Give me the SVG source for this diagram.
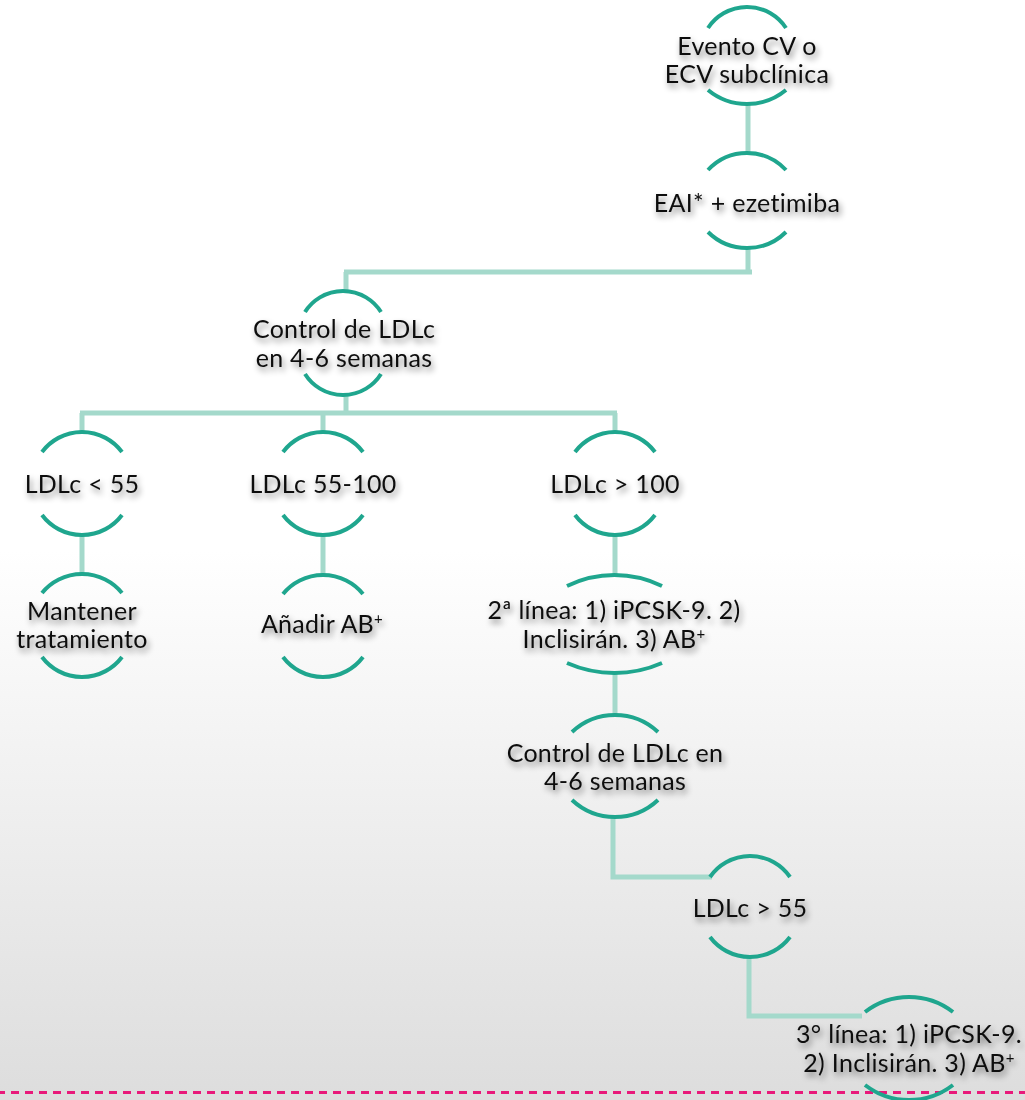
<svg xmlns="http://www.w3.org/2000/svg" width="1025" height="1100" viewBox="0 0 1025 1100">
<defs>
<linearGradient id="bg" x1="0" y1="0" x2="0" y2="1100" gradientUnits="userSpaceOnUse">
<stop offset="0" stop-color="#ffffff"/>
<stop offset="0.5" stop-color="#ffffff"/>
<stop offset="1" stop-color="#dddddd"/>
</linearGradient>
<filter id="sh" x="-20%" y="-40%" width="140%" height="200%">
<feGaussianBlur in="SourceAlpha" stdDeviation="3"/>
<feOffset dx="2" dy="4" result="b"/>
<feComponentTransfer><feFuncA type="linear" slope="0.5"/></feComponentTransfer>
<feMerge><feMergeNode/><feMergeNode in="SourceGraphic"/></feMerge>
</filter>
</defs>
<style>
.arc{fill:none;stroke:#1fa68e;stroke-width:4}
.con{fill:none;stroke:#a4d9cb;stroke-width:5}
.t{font-family:"Lato","Open Sans","Liberation Sans",sans-serif;font-size:25px;letter-spacing:0.3px;font-variant-ligatures:none;fill:#111;text-anchor:middle;filter:url(#sh)}
.sup{font-size:15px}
</style>
<rect x="0" y="0" width="1025" height="1100" fill="url(#bg)"/>
<line x1="0" y1="1092.5" x2="1025" y2="1092.5" stroke="#e8197a" stroke-width="3" stroke-dasharray="8 6" stroke-dashoffset="3"/>
<g id="connectors">
<path class="con" d="M748,103 V153"/>
<path class="con" d="M748,248 V272 M752,272 H344 M346,272 V291"/>
<path class="con" d="M346,395 V413 M80,413 H617 M82,413 V432 M323,413 V432 M615,413 V432"/>
<path class="con" d="M82,535 V573 M323,535 V575 M615,535 V575"/>
<path class="con" d="M615,672 V715"/>
<path class="con" d="M613,817 V877 H712"/>
<path class="con" d="M749,957 V1016 H862"/>
</g>
<g id="n1">
<path class="arc" d="M708,28 A46.7,46.7 0 0 1 786,28"/>
<path class="arc" d="M708,90 A61.3,61.3 0 0 0 786,90"/>
<text class="t" x="747" y="55">Evento CV o</text>
<text class="t" x="747" y="83">ECV subclínica</text>
</g>
<g id="n2">
<path class="arc" d="M708,170 A53.2,53.2 0 0 1 786,170"/>
<path class="arc" d="M708,232 A55.5,55.5 0 0 0 786,232"/>
<text class="t" x="747" y="212">EAI* + ezetimiba</text>
</g>
<g id="n3">
<path class="arc" d="M305,312 A44.9,44.9 0 0 1 381,312"/>
<path class="arc" d="M305,374 A44.9,44.9 0 0 0 381,374"/>
<text class="t" x="344" y="338">Control de LDLc</text>
<text class="t" x="344" y="367">en 4-6 semanas</text>
</g>
<g id="n4">
<path class="arc" d="M42,452 A50,50 0 0 1 122,452"/>
<path class="arc" d="M42,515 A50,50 0 0 0 122,515"/>
<text class="t" x="82" y="493">LDLc &lt; 55</text>
</g>
<g id="n5">
<path class="arc" d="M283,452 A50,50 0 0 1 363,452"/>
<path class="arc" d="M283,515 A50,50 0 0 0 363,515"/>
<text class="t" x="323" y="493">LDLc 55-100</text>
</g>
<g id="n6">
<path class="arc" d="M575,452 A50,50 0 0 1 655,452"/>
<path class="arc" d="M575,515 A50,50 0 0 0 655,515"/>
<text class="t" x="615" y="493">LDLc &gt; 100</text>
</g>
<g id="n7">
<path class="arc" d="M42,593 A51.6,51.6 0 0 1 122,593"/>
<path class="arc" d="M42,657 A50,50 0 0 0 122,657"/>
<text class="t" x="82" y="620">Mantener</text>
<text class="t" x="82" y="648">tratamiento</text>
</g>
<g id="n8">
<path class="arc" d="M283,594 A51.6,51.6 0 0 1 363,594"/>
<path class="arc" d="M283,657 A50,50 0 0 0 363,657"/>
<text class="t" x="322" y="633">Añadir AB<tspan class="sup" dy="-9">+</tspan></text>
</g>
<g id="n9">
<path class="arc" d="M567,586 A108,108 0 0 1 662,586"/>
<path class="arc" d="M567,663 A117.8,117.8 0 0 0 662,663"/>
<text class="t" x="614" y="619">2ª línea: 1) iPCSK-9. 2)</text>
<text class="t" x="614" y="648">Inclisirán. 3) AB<tspan class="sup" dy="-9">+</tspan></text>
</g>
<g id="n10">
<path class="arc" d="M572,732 A62.9,62.9 0 0 1 658,732"/>
<path class="arc" d="M572,800 A62.9,62.9 0 0 0 658,800"/>
<text class="t" x="615" y="762">Control de LDLc en</text>
<text class="t" x="615" y="790">4-6 semanas</text>
</g>
<g id="n11">
<path class="arc" d="M710,877 A48.6,48.6 0 0 1 790,877"/>
<path class="arc" d="M710,937 A50,50 0 0 0 790,937"/>
<text class="t" x="750" y="917">LDLc &gt; 55</text>
</g>
<g id="n12">
<path class="arc" d="M865,1012 A72,72 0 0 1 953,1012"/>
<path class="arc" d="M865,1085 A72,72 0 0 0 953,1085"/>
<text class="t" x="909" y="1043">3° línea: 1) iPCSK-9.</text>
<text class="t" x="909" y="1072">2) Inclisirán. 3) AB<tspan class="sup" dy="-9">+</tspan></text>
</g>
</svg>
